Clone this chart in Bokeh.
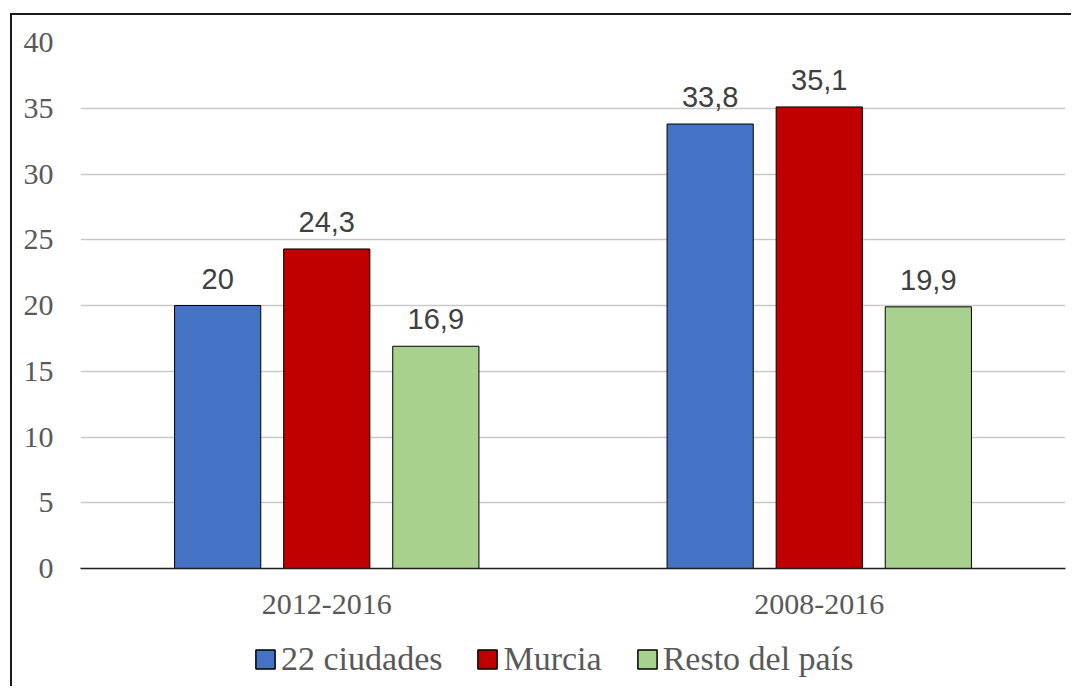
from bokeh.plotting import figure
from bokeh.layouts import column
from bokeh.models import (ColumnDataSource, FactorRange, Range1d, LabelSet,
                          Legend, LegendItem, SingleIntervalTicker)
from bokeh.core.properties import value
from bokeh.transform import dodge
from bokeh.embed import file_html
from bokeh.resources import INLINE

periods = ["2012-2016", "2008-2016"]
series = ["22 ciudades", "Murcia", "Resto del país"]
v_ciudades = [20.0, 33.8]
v_murcia = [24.3, 35.1]
v_resto = [16.9, 19.9]
colors = ["#4472C4", "#C00000", "#A9D18E"]
offsets = [-0.2215, 0.0, 0.2215]


def fmt(v):
    s = ("%.1f" % v).replace(".", ",")
    return s[:-2] if s.endswith(",0") else s


data = dict(period=periods)
for name, vals in zip(["a", "b", "c"], [v_ciudades, v_murcia, v_resto]):
    data[name] = vals
    data[name + "_lbl"] = [fmt(v) for v in vals]
src = ColumnDataSource(data)

p = figure(width=1061, height=618, x_range=FactorRange(*periods, range_padding=0),
           y_range=Range1d(0, 40), output_backend="svg", toolbar_location=None,
           min_border_left=68, min_border_right=8, min_border_top=27,
           min_border_bottom=65)
p.styles = {"border-top": "2px solid #1a1a1a", "border-left": "2px solid #1a1a1a",
            "margin-left": "10px", "margin-top": "13px"}
p.outline_line_color = None
p.background_fill_color = "white"
p.border_fill_color = "white"

for name, col, off in zip(["a", "b", "c"], colors, offsets):
    p.vbar(x=dodge("period", off, range=p.x_range), top=name, width=0.175,
           source=src, fill_color=col, line_color="#000000", line_width=1)
    lbl = LabelSet(x=dodge("period", off, range=p.x_range), y=name,
                   text=name + "_lbl", source=src, y_offset=17,
                   text_align="center", text_baseline="alphabetic",
                   text_font=value("Liberation Sans"), text_font_size="29px",
                   text_color="#404040")
    p.add_layout(lbl)

# axes
p.yaxis.ticker = SingleIntervalTicker(interval=5)
p.yaxis.axis_line_color = None
p.yaxis.major_tick_line_color = None
p.yaxis.minor_tick_line_color = None
p.yaxis.major_tick_out = 0
p.yaxis.major_tick_in = 0
p.yaxis.major_label_standoff = 23
p.yaxis.major_label_text_font = "Liberation Serif"
p.yaxis.major_label_text_font_size = "30px"
p.yaxis.major_label_text_color = "#595959"

p.xaxis.axis_line_color = "#1f1f1f"
p.xaxis.axis_line_width = 1.5
p.xaxis.major_tick_line_color = None
p.xaxis.major_tick_out = 0
p.xaxis.major_tick_in = 0
p.xaxis.major_label_standoff = 26
p.xaxis.major_label_text_font = "Liberation Serif"
p.xaxis.major_label_text_font_size = "30px"
p.xaxis.major_label_text_color = "#595959"

p.xgrid.grid_line_color = None
p.ygrid.grid_line_color = "#C9C9C9"
p.ygrid.grid_line_width = 1.5

# legend strip (proxy glyphs carry only the series styles, no visible marks)
p2 = figure(width=1061, height=55, x_range=Range1d(0, 1), y_range=Range1d(0, 1),
            x_axis_type=None, y_axis_type=None, output_backend="svg",
            toolbar_location=None, min_border=0)
p2.styles = {"border-left": "2px solid #1a1a1a", "margin-left": "10px"}
p2.outline_line_color = None
p2.grid.visible = False
proxy = ColumnDataSource(dict(x=[float("nan")], top=[float("nan")]))
leg_renderers = [p2.vbar(x="x", top="top", width=0.1, source=proxy, fill_color=c,
                         line_color="#000000", line_width=1.5) for c in colors]

legend = Legend(items=[LegendItem(label=s, renderers=[r]) for s, r in zip(series, leg_renderers)],
                orientation="horizontal", location=(173, 8),
                glyph_width=24, glyph_height=24, label_standoff=4, spacing=33,
                padding=0, margin=0, border_line_color=None,
                background_fill_alpha=0,
                label_text_font="Liberation Serif", label_text_font_size="34px",
                label_text_color="#595959")
p2.add_layout(legend)

layout = column(p, p2, spacing=0)
open("out.html", "w").write(file_html(layout, INLINE))
